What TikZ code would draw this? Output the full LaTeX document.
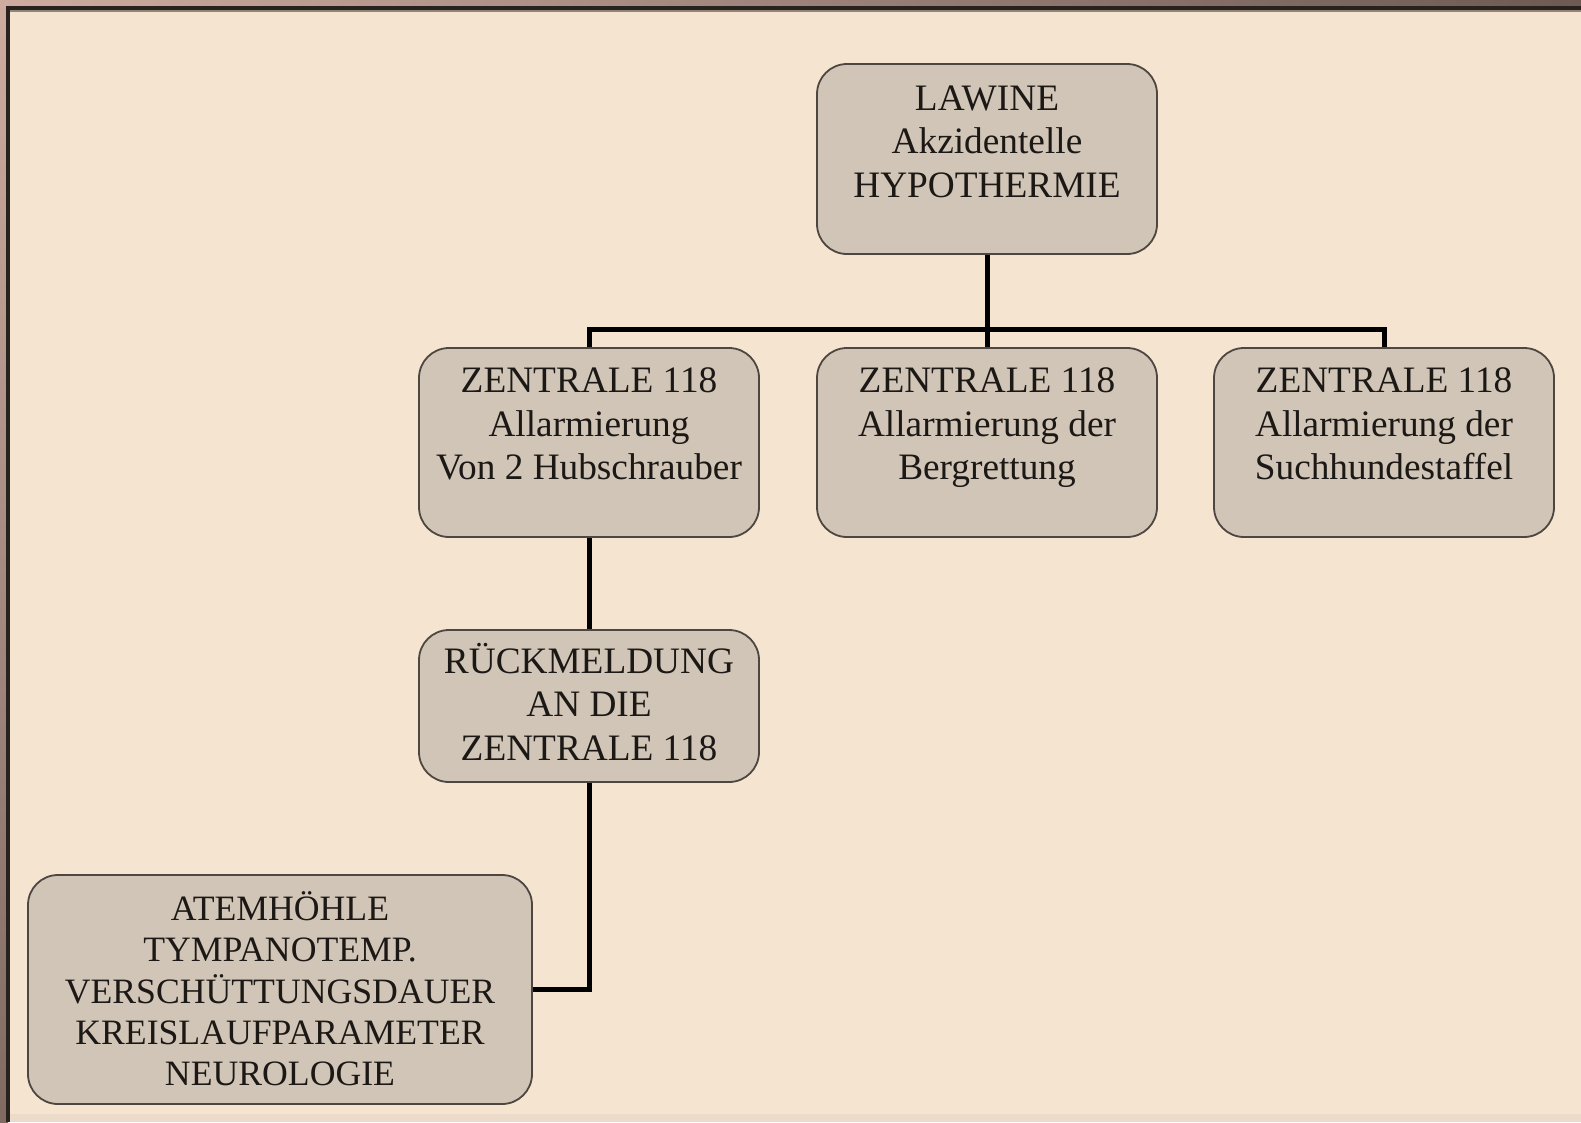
\documentclass[tikz,border=0pt]{standalone}
\usepackage{fontspec}
\setmainfont{Liberation Serif}
\definecolor{paper}{RGB}{245,228,208}
\definecolor{boxfill}{RGB}{208,197,182}
\definecolor{boxline}{RGB}{78,70,64}
\definecolor{ink}{RGB}{28,24,21}
\definecolor{framedark}{RGB}{40,34,31}
\definecolor{pinkbrown}{RGB}{206,172,160}
\definecolor{darkbrown}{RGB}{108,90,83}
\begin{document}
\begin{tikzpicture}[x=1pt,y=-1pt,
  box/.style={draw=boxline, line width=1.8pt, fill=boxfill, rounded corners=30pt, inner sep=0pt},
  txt/.style={align=center, inner sep=0pt, text=ink, font=\fontsize{37.3}{43.5}\selectfont},
  txts/.style={align=center, inner sep=0pt, text=ink, font=\fontsize{35.7}{41}\selectfont},
  conn/.style={draw=black, line width=5pt}]
\useasboundingbox (0,0) rectangle (1581,1122);
% outer slide background
\shade[left color=pinkbrown, right color=darkbrown] (0,0) rectangle (1581,8);
\shade[top color=pinkbrown, bottom color=darkbrown!80!pinkbrown] (0,0) rectangle (8,1122);
% paper
\fill[paper] (8,8) rectangle (1581,1122);
\fill[paper!96!black] (9,1114) rectangle (1581,1122);
% frame lines
\fill[framedark] (6,6) rectangle (1581,10);
\fill[framedark] (6,6) rectangle (10,1122);
\fill[boxline!60!paper] (10,10) rectangle (1581,11.5);

% boxes
\node[box, minimum width=340pt, minimum height=190pt] (top) at (987,159) {};
\node[box, minimum width=340pt, minimum height=189pt] (z1) at (589,442.5) {};
\node[box, minimum width=340pt, minimum height=189pt] (z2) at (987,442.5) {};
\node[box, minimum width=340pt, minimum height=189pt] (z3) at (1384,442.5) {};
\node[box, minimum width=340pt, minimum height=152pt] (rm) at (589,706) {};
\node[box, minimum width=504pt, minimum height=229pt] (at) at (280,989.5) {};

% texts
\node[txt] (toptxt) at ([yshift=14pt]top.center) {\strut LAWINE\\\strut Akzidentelle\\\strut HYPOTHERMIE};
\node[txt] (z1txt) at ([yshift=15pt]z1.center) {\strut ZENTRALE 118\\\strut Allarmierung\\\strut Von 2 Hubschrauber};
\node[txt] (z2txt) at ([yshift=15pt]z2.center) {\strut ZENTRALE 118\\\strut Allarmierung der\\\strut Bergrettung};
\node[txt] (z3txt) at ([yshift=15pt]z3.center) {\strut ZENTRALE 118\\\strut Allarmierung der\\\strut Suchhundestaffel};
\node[txt] (rmtxt) at ([yshift=-2pt]rm.center) {\strut RÜCKMELDUNG\\\strut AN DIE\\\strut ZENTRALE 118};
\node[txts] (attxt) at ([yshift=-5pt]at.center) {\strut ATEMHÖHLE\\\strut TYMPANOTEMP.\\\strut VERSCHÜTTUNGSDAUER\\\strut KREISLAUFPARAMETER\\\strut NEUROLOGIE};

% connectors
\coordinate (bus) at (987,329);
\draw[conn] (top.south) -- (bus);
\draw[conn] (z1.north) |- (bus) -| (z3.north);
\draw[conn] (bus) -- (z2.north);
\draw[conn] (z1.south) -- (rm.north);
\draw[conn] (rm.south) |- (at.east);
\end{tikzpicture}
\end{document}
